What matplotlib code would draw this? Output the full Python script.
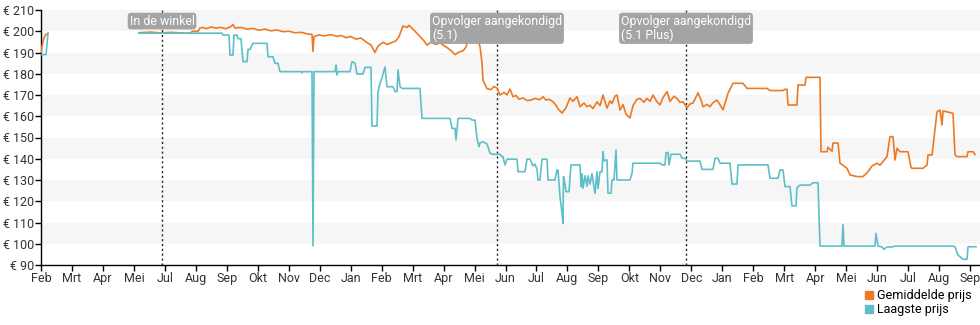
import numpy as np
import matplotlib
matplotlib.use("Agg")
import matplotlib.pyplot as plt
from matplotlib.patches import Patch

plt.rcParams['font.family'] = ['Roboto', 'DejaVu Sans']

# ---------------------------
# Data (x = days since first tick, y = price in euro)
# ---------------------------
month_labels = ["Feb", "Mrt", "Apr", "Mei", "Jul", "Aug", "Sep", "Okt", "Nov", "Dec",
                "Jan", "Feb", "Mrt", "Apr", "Mei", "Jun", "Jul", "Aug", "Sep", "Okt",
                "Nov", "Dec", "Jan", "Feb", "Mrt", "Apr", "Mei", "Jun", "Jul", "Aug", "Sep"]
month_ticks = np.linspace(0, 929, len(month_labels))

avg_days = [0, 1, 3, 5, 7, np.nan,
            98, 110, 120, 130, 140, 150, 151, 157, 159, 162, 165, 170, 175, 180, 185,
            190, 192, 194, 200, 206, 212, 218, 224, 230, 236, 242, 248, 254, 260, 266,
            271, 272, 273, 278, 283, 290, 296, 300, 305, 310, 315, 320, 325, 330, 334,
            337, 342, 346, 350, 355, 358, 362, 366, 368, 372, 376, 379, 383, 386, 390,
            395, 399, 403, 407, 411, 414, 418, 422, 425, 427, 429, 433, 436, 439, 441,
            442, 446, 450, 453, 456, 459, 463, 466, 469, 472, 475, 478, 482, 486, 490,
            494, 499, 502, 505, 508, 512, 515, 517, 521, 525, 529, 532, 536, 539, 543,
            546, 549, 552, 556, 559, 562, 566, 569, 571, 574, 576, 579, 582, 585, 589,
            592, 596, 599, 603, 606, 609, 612, 616, 619, 622, 626, 629, 633, 636, 639,
            642, 646, 649, 652, 657, 660, 662, 666, 669, 672, 676, 679, 682, 687, 692,
            702, 706, 726, 729, 742, 744, 746, 747, 756, 757, 764, 765, 779, 780, 786,
            787, 791, 792, 797, 799, 806, 809, 816, 822, 827, 831, 836, 839, 846, 849,
            852, 854, 856, 859, 867, 870, 871, 882, 886, 887, 891, 892, 896, 899, 901,
            902, 912, 914, 916, 926, 927, 932, 934]
avg_price = [190, 193, 197, 198.5, 199, np.nan,
             199.3, 199.6, 199.2, 199.5, 199.2, 199.0, 200, 200, 201.5, 201.8, 201.2, 202, 201.5, 201.8, 201.2,
             202.2, 203.2, 201.5, 201.8, 201, 201.3, 200.5, 201, 200.2, 200.6, 199.8, 200, 199.3, 199.5, 198.8,
             198.5, 190.5, 197.5, 198.3, 197.8, 198.4, 197.6, 198, 197, 197.5, 196.3, 196.8, 195, 193.5, 190,
             193, 194.8, 193.8, 194.5, 195.5, 197.5, 202.5, 201.8, 202.8, 201, 199, 197.5, 195.5, 193.5, 194.8,
             193.8, 194.6, 193.2, 192, 190.5, 189, 190.2, 190.8, 192.5, 196, 199, 199, 197.5, 192.8, 185,
             177, 173, 172.5, 174, 173.3, 170, 171.2, 170, 172.8, 169.2, 169.8, 168, 168.6, 167.4, 167.6,
             168.4, 167.8, 169.2, 167.6, 168, 166.8, 165.2, 163.5, 161.5, 164, 168.6, 167, 169.2, 164.5, 166.2,
             164.5, 165.2, 163.6, 166.8, 165, 170, 163.8, 167.2, 166, 169.5, 170, 162.9, 165.5, 161, 159.2,
             165, 168, 168.4, 166.6, 168.4, 167, 170, 166.8, 165.3, 168.8, 171.6, 167, 169.4, 168.4, 166.5,
             166.8, 164, 165.8, 166.2, 171, 167.8, 164.5, 165.6, 164.5, 166.4, 167.6, 165.4, 163, 170.8, 175.5,
             175.5, 173.1, 173.1, 172.1, 172.1, 172.7, 172.7, 165.3, 165.3, 174.7, 174.7, 178.3, 178.3, 143.3, 143.3,
             145.4, 143.5, 147.4, 147.4, 137.9, 135.5, 132.4, 131.6, 131.6, 133.9, 136.6, 137.9, 137, 141, 150.4,
             150.4, 139.4, 144.9, 143.3, 143.3, 136, 135.5, 135.5, 137, 141.8, 141.8, 145.7, 162.1, 162.9, 155.9,
             162.5, 161.4, 141.8, 141, 141, 143.3, 143.3, 142]

low_days = [0, 5, 6, 7, np.nan,
            98, 181, 182, 188, 189, 192, 193, 196, 197, 200, 202, 206, 207, 209, 211,
            212, 226, 227, 232, 234, 237, 239, 260, 261, 262, 271, 272, 273, 294, 295,
            296, 297, 309, 311, 314, 316, 322, 324, 330, 331, 336, 337, 339, 341, 344,
            346, 352, 354, 356, 357, 359, 361, 379, 381, 409, 411, 414, 415, 417, 429,
            431, 434, 436, 438, 439, 442, 446, 449, 452, 459, 461, 462, 464, 466, 476,
            477, 484, 486, 489, 492, 494, 496, 497, 499, 501, 506, 507, 514, 516, 517,
            519, 521, 522, 522.5, 524, 525, 528, 530, 539, 540, 541, 542, 544, 546, 547,
            549, 551, 554, 556, 557, 559, 561, 562, 563, 566, 567, 570, 571, 573, 575,
            576, 589, 591, 592, 619, 621, 624, 625, 627, 628, 630, 639, 641, 644, 646,
            659, 661, 672, 674, 677, 679, 689, 691, 696, 697, 727, 729, 737, 739, 742,
            744, 749, 751, 755, 756, 759, 769, 772, 777, 779, 801, 802, 803, 834, 835,
            837, 841, 843, 846, 851, 854, 912, 914, 917, 922, 926, 927, 935]
low_price = [189, 189, 194, 199, np.nan,
             199.1, 199.1, 198.2, 198.2, 188.8, 188.8, 198.2, 198.2, 196.5, 196.5, 185.7, 185.7, 191.5, 191.5, 193.5,
             194.3, 194.3, 188, 188, 184.9, 184.9, 181, 181, 180.5, 181, 181, 99, 181, 181, 184.1,
             179.4, 181, 181, 185.7, 185, 179.9, 179.9, 183, 183, 155.4, 155.4, 171.6, 175.5, 178, 183.2,
             173.9, 173.9, 171.6, 171.6, 181.8, 174, 173.1, 173.1, 159, 159, 154.3, 154.3, 148.8, 159, 159,
             158.2, 158.2, 149.6, 145.7, 147.4, 148, 147, 142.6, 142.1, 142.1, 141, 141, 137.1, 139.8, 139.8,
             133.9, 133.9, 139.8, 139.8, 136.6, 137.5, 135, 130, 130, 139.8, 139.8, 130, 130, 134.7, 134.7,
             122.2, 114.3, 109.6, 131.6, 128, 124.5, 124.5, 137.1, 137.1, 126.9, 133, 126.1, 132, 127, 132,
             128, 133, 123.7, 133.9, 126, 133.9, 133.9, 143.3, 139, 139.5, 123.8, 123.8, 130, 130, 144.1,
             130, 130, 133.2, 137.9, 137.9, 137.1, 137.1, 142.9, 142.9, 137.1, 142.1, 142.1, 140.2, 140.2, 138.9,
             138.9, 135, 135, 140.2, 140.2, 137.9, 137.9, 128.1, 128.1, 137.1, 137.1, 130.8, 130.8, 134.7, 134.7,
             126.9, 126.9, 117.8, 117.8, 126.5, 127.6, 127.6, 128.7, 128.7, 98.9, 98.9, 109.1, 98.9, 98.9, 104.9,
             98.9, 98.5, 97.4, 98.5, 98.5, 98.9, 98.9, 98.5, 94.7, 92.7, 92.7, 98.6, 98.6]

event_days = [121, 456, 645]
event_labels = ["In de winkel", "Opvolger aangekondigd\n(5.1)", "Opvolger aangekondigd\n(5.1 Plus)"]

ORANGE = "#ec7a24"
TEAL = "#5ebfc8"

# ---------------------------
# Plot
# ---------------------------
fig = plt.figure(figsize=(9.8, 3.25), dpi=100)
ax = fig.add_axes([41 / 980, 1 - 265 / 325, 939 / 980, 255 / 325])

ax.set_xlim(0, 939)
ax.set_ylim(90, 210)

# alternating background bands
for lo in range(100, 210, 20):
    ax.axhspan(lo, lo + 10, color="#f6f6f6", lw=0, zorder=0)

ax.plot(avg_days, avg_price, color=ORANGE, lw=1.2, zorder=3)
ax.plot(low_days, low_price, color=TEAL, lw=1.2, zorder=3)

for d, lab in zip(event_days, event_labels):
    ax.axvline(d, color="#222222", lw=1.0, ls=(0, (1.5, 2)), zorder=2)
    ax.text(d, 0.982, lab, transform=ax.get_xaxis_transform(), ha="center", va="top",
            multialignment="left", color="white", fontsize=8.9, zorder=5, linespacing=1.1,
            bbox=dict(boxstyle="round,pad=0.15,rounding_size=0.25", fc="#a4a4a4", ec="none"))

yt = list(range(90, 211, 10))
ax.set_yticks(yt)
ax.set_yticklabels([f"€ {v}" for v in yt])
ax.set_xticks(month_ticks)
ax.set_xticklabels(month_labels)
ax.tick_params(axis="both", labelsize=9, colors="#333333", length=4, width=1, pad=1)
ax.tick_params(axis="both", color="#000000")

for s in ["top", "right"]:
    ax.spines[s].set_visible(False)
for s in ["left", "bottom"]:
    ax.spines[s].set_color("#000000")
    ax.spines[s].set_linewidth(1.0)

handles = [Patch(color=ORANGE, label="Gemiddelde prijs"),
           Patch(color=TEAL, label="Laagste prijs")]
fig.legend(handles=handles, loc="lower right", bbox_to_anchor=(1.0, 0.0), frameon=False,
           fontsize=9, handlelength=0.6, handleheight=0.6, handletextpad=0.3,
           labelspacing=0.1, borderaxespad=0.3)

fig.savefig("out.png", dpi=100)
